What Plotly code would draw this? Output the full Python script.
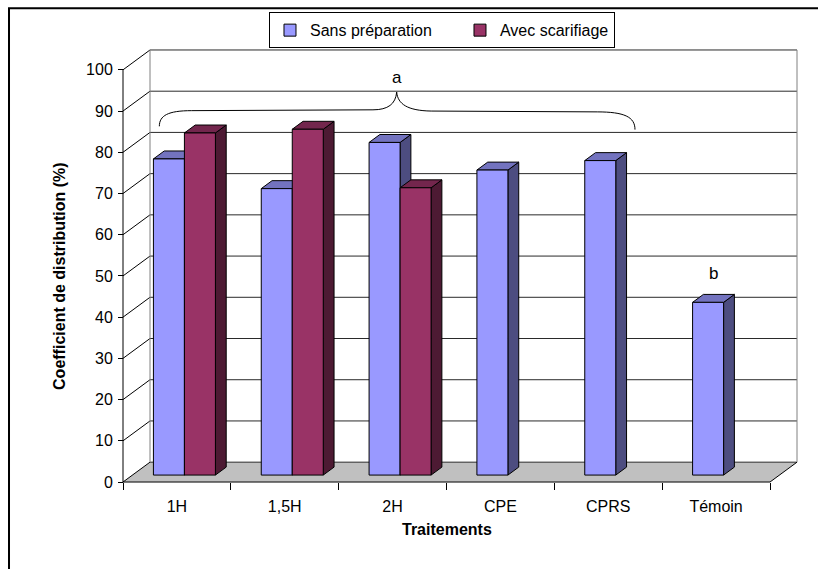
import plotly.graph_objects as go

# ---- data -----------------------------------------------------------------
categories = ["1H", "1,5H", "2H", "CPE", "CPRS", "Témoin"]
series_names = ["Sans préparation", "Avec scarifiage"]
sans_preparation = [76.7, 69.5, 80.7, 74.0, 76.3, 41.9]
avec_scarifiage = [83.0, 83.9, 69.7, None, None, None]
y_ticks = [0, 10, 20, 30, 40, 50, 60, 70, 80, 90, 100]
group_letters = ["a", "b"]

# ---- pseudo-3D geometry (pixels) -----------------------------------------
PXU = 107.84          # pixels per category
PYU = 4.15            # pixels per percent
PAD = 3               # breathing room around the drawn box
WALL_DX, WALL_DY = 27, 20      # depth of the back wall
BAR_DX, BAR_DY = 7.5, 7        # where the bar front faces sit in depth
SIDE_DX, SIDE_DY = 10.8, 8     # bar thickness in depth
BAR_W = 31 / PXU
FRONT_LEFT_PX, FRONT_ZERO_PX = 123, 482
W_FIG, H_FIG = 818, 569

wdx, wdy = WALL_DX / PXU, WALL_DY / PYU
bdx, bdy = BAR_DX / PXU, BAR_DY / PYU
sdx, sdy = SIDE_DX / PXU, SIDE_DY / PYU
n = len(categories)
x_lo, x_hi = -0.5, n - 0.5
y_top = max(y_ticks)

X0, X1 = x_lo - PAD / PXU, x_hi + (WALL_DX + PAD) / PXU
Y0, Y1 = -PAD / PYU, y_top + (WALL_DY + PAD) / PYU
plot_w = (X1 - X0) * PXU
plot_h = (Y1 - Y0) * PYU
m_l = FRONT_LEFT_PX - PAD
m_t = FRONT_ZERO_PX - y_top * PYU - WALL_DY - PAD
m_r = W_FIG - m_l - plot_w
m_b = H_FIG - m_t - plot_h


def paper_x(px):
    return (px - m_l) / plot_w


def paper_y(py):
    return (m_t + plot_h - py) / plot_h


FONT = "Liberation Sans, Arial, sans-serif"
front_colors = ["#9999FF", "#993366"]
top_colors = ["#7373BF", "#73264D"]
side_colors = ["#4D4D80", "#4D1A33"]
legend_widths = [145, None]
offsets = [-BAR_W, 0.0]
series_values = [sans_preparation, avec_scarifiage]

fig = go.Figure()

shapes = []


def poly(pts, fill, line_color="black", width=1, layer="below"):
    path = "M " + " L ".join(f"{x},{y}" for x, y in pts) + " Z"
    shapes.append(dict(type="path", path=path, xref="x", yref="y",
                       fillcolor=fill, line=dict(color=line_color, width=width),
                       layer=layer))


def seg(x0, y0, x1, y1, color="black", width=1, layer="below"):
    shapes.append(dict(type="line", x0=x0, y0=y0, x1=x1, y1=y1, xref="x", yref="y",
                       line=dict(color=color, width=width), layer=layer))


# floor
poly([(x_lo, 0), (x_hi, 0), (x_hi + wdx, wdy), (x_lo + wdx, wdy)], "#C0C0C0",
     line_color="rgba(0,0,0,0)", width=0)
# back wall grid and left wall rungs
for v in y_ticks:
    seg(x_lo + wdx, v + wdy, x_hi + wdx, v + wdy, color="#2a2a2a")
    seg(x_lo, v, x_lo + wdx, v + wdy, color="black")
# back wall side edges
seg(x_lo + wdx, wdy, x_lo + wdx, y_top + wdy, color="#808080")
seg(x_hi + wdx, wdy, x_hi + wdx, y_top + wdy, color="#808080")
# floor right edge
seg(x_hi, 0, x_hi + wdx, wdy, color="black")

# bar sides and tops (front faces are the bar traces)
for k, vals in enumerate(series_values):
    for i, v in enumerate(vals):
        if v is None:
            continue
        xl = i + bdx + offsets[k]
        xr = xl + BAR_W
        b, t = bdy, bdy + v
        poly([(xr, b), (xr + sdx, b + sdy), (xr + sdx, t + sdy), (xr, t)], side_colors[k])
        poly([(xl, t), (xr, t), (xr + sdx, t + sdy), (xl + sdx, t + sdy)], top_colors[k])

# front axes lines
seg(x_lo, 0, x_hi, 0, color="black", layer="above")
seg(x_lo, 0, x_lo, y_top, color="black", layer="above")

for k, vals in enumerate(series_values):
    fig.add_trace(go.Bar(
        name=series_names[k],
        x=[i + bdx for i in range(n)],
        y=vals,
        base=bdy,
        width=BAR_W,
        offset=offsets[k],
        legendwidth=legend_widths[k],
        marker=dict(color=front_colors[k], line=dict(color="black", width=1)),
    ))

# grouping brace over the first five treatments
bl, br = -0.163, 4.248
y_end, y_mid, y_peak = 86.3, 90.1, 94.6
xc = 2.038
brace = (f"M {bl},{y_end} C {bl},{y_mid - 1.2} {bl + 0.08},{y_mid} {bl + 0.3},{y_mid} "
         f"L {xc - 0.22},{y_mid + 0.2} C {xc - 0.08},{y_mid + 0.2} {xc - 0.01},{y_mid + 1.6} {xc},{y_peak} "
         f"C {xc + 0.01},{y_mid + 1.6} {xc + 0.1},{y_mid} {xc + 0.32},{y_mid - 0.1} "
         f"L {br - 0.35},{y_mid - 0.3} C {br - 0.1},{y_mid - 0.3} {br},{y_mid - 1.5} {br},{y_end - 0.8}")
shapes.append(dict(type="path", path=brace, xref="x", yref="y",
                   line=dict(color="black", width=1), layer="above"))

# outer frame
shapes.append(dict(type="rect", xref="paper", yref="paper",
                   x0=paper_x(9), y0=paper_y(590), x1=paper_x(840), y1=paper_y(5),
                   line=dict(color="black", width=2), fillcolor="rgba(0,0,0,0)",
                   layer="above"))

annotations = [
    dict(x=xc, y=y_peak + 3.6, xref="x", yref="y", text=group_letters[0],
         xanchor="center", yanchor="middle",
         showarrow=False, font=dict(family=FONT, size=17, color="black")),
    dict(x=(n - 1) + bdx - BAR_W / 2 + sdx / 2, y=bdy + sans_preparation[-1] + 7,
         xref="x", yref="y", text=group_letters[1], xanchor="center", yanchor="middle",
         showarrow=False, font=dict(family=FONT, size=17, color="black")),
    dict(x=paper_x(60), y=50, xref="paper", yref="y", text="<b>Coefficient de distribution (%)</b>",
         xanchor="center", yanchor="middle",
         textangle=-90, showarrow=False, font=dict(family=FONT, size=16, color="black")),
    dict(x=(x_lo + x_hi) / 2, y=paper_y(530), xref="x", yref="paper", text="<b>Traitements</b>",
         xanchor="center", yanchor="middle",
         showarrow=False, font=dict(family=FONT, size=16, color="black")),
]

fig.update_layout(
    width=W_FIG, height=H_FIG, autosize=False,
    margin=dict(l=m_l, r=m_r, t=m_t, b=m_b, pad=0),
    paper_bgcolor="white", plot_bgcolor="white",
    barmode="overlay",
    showlegend=True,
    legend=dict(orientation="h", x=paper_x(269), y=paper_y(9), xanchor="left", yanchor="top",
                bordercolor="black", borderwidth=1, bgcolor="white",
                font=dict(family=FONT, size=16, color="black"),
                itemwidth=30, traceorder="normal"),
    shapes=shapes,
    annotations=annotations,
    xaxis=dict(range=[X0, X1], tickmode="array", tickvals=list(range(n)), ticktext=categories,
               ticks="", showline=False, showgrid=False, zeroline=False,
               anchor="free", position=PAD / plot_h, ticklabelstandoff=13,
               tickfont=dict(family=FONT, size=16, color="black"),
               minor=dict(tickmode="array", tickvals=[i - 0.5 for i in range(n + 1)],
                          ticks="outside", ticklen=7, tickcolor="black", tickwidth=1,
                          showgrid=False)),
    yaxis=dict(range=[Y0, Y1], tickmode="array", tickvals=y_ticks,
               ticks="outside", ticklen=5, tickcolor="black", tickwidth=1,
               showline=False, showgrid=False, zeroline=False,
               anchor="free", position=PAD / plot_w, ticklabelstandoff=2,
               tickfont=dict(family=FONT, size=16, color="black")),
    hovermode=False,
)

fig.write_html("out.html")
